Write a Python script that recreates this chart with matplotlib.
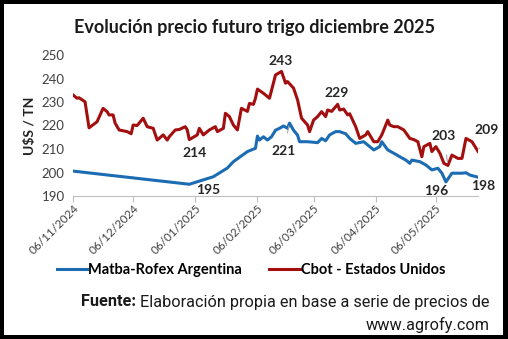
import pandas as pd
import matplotlib
matplotlib.use("Agg")
import matplotlib.pyplot as plt
import matplotlib.dates as mdates
from matplotlib.patches import Rectangle

# Precio futuro trigo dic-2025, U$S/TN
matba_fechas = ["2024-11-06", "2025-01-03", "2025-01-15", "2025-01-22", "2025-01-25",
                "2025-02-01", "2025-02-05", "2025-02-06", "2025-02-07", "2025-02-09",
                "2025-02-11", "2025-02-13", "2025-02-15", "2025-02-17", "2025-02-19",
                "2025-02-21", "2025-02-22", "2025-02-24", "2025-02-26", "2025-02-27",
                "2025-03-03", "2025-03-08", "2025-03-10", "2025-03-12", "2025-03-14",
                "2025-03-17", "2025-03-19", "2025-03-22", "2025-03-24", "2025-03-27",
                "2025-03-31", "2025-04-02", "2025-04-05", "2025-04-08", "2025-04-09",
                "2025-04-12", "2025-04-15", "2025-04-18", "2025-04-21", "2025-04-23",
                "2025-04-24", "2025-04-28", "2025-05-01", "2025-05-04", "2025-05-07",
                "2025-05-09", "2025-05-11", "2025-05-14", "2025-05-19", "2025-05-21",
                "2025-05-23", "2025-05-27"]
matba_precio = [200.6, 195.0, 198.2, 201.9, 204.6,
                208.9, 210.3, 215.5, 213.8, 215.2,
                213.8, 215.2, 218.0, 218.8, 219.8,
                218.8, 221.0, 218.0, 215.9, 213.1,
                213.1, 212.7, 214.5, 213.5, 216.0,
                217.4, 217.4, 216.5, 214.5, 212.4,
                213.1, 211.7, 209.6, 211.0, 213.1,
                209.6, 208.2, 206.7, 205.3, 203.9,
                205.3, 204.6, 203.2, 201.1, 201.8,
                199.7, 196.0, 199.7, 199.7, 199.9,
                198.9, 198.0]

cbot_fechas = ["2024-11-06", "2024-11-08", "2024-11-09", "2024-11-12", "2024-11-14",
               "2024-11-18", "2024-11-21", "2024-11-23", "2024-11-24", "2024-11-26",
               "2024-11-27", "2024-11-29", "2024-12-03", "2024-12-05", "2024-12-06",
               "2024-12-08", "2024-12-11", "2024-12-13", "2024-12-16", "2024-12-18",
               "2024-12-21", "2024-12-23", "2024-12-24", "2024-12-27", "2024-12-29",
               "2025-01-01", "2025-01-02", "2025-01-03", "2025-01-07", "2025-01-08",
               "2025-01-10", "2025-01-13", "2025-01-16", "2025-01-17", "2025-01-20",
               "2025-01-21", "2025-01-23", "2025-01-25", "2025-01-27", "2025-01-29",
               "2025-02-01", "2025-02-02", "2025-02-04", "2025-02-05", "2025-02-06",
               "2025-02-09", "2025-02-12", "2025-02-15", "2025-02-18", "2025-02-20",
               "2025-02-21", "2025-02-24", "2025-02-26", "2025-02-28", "2025-03-03",
               "2025-03-04", "2025-03-06", "2025-03-08", "2025-03-10", "2025-03-12",
               "2025-03-13", "2025-03-15", "2025-03-18", "2025-03-19", "2025-03-21",
               "2025-03-23", "2025-03-24", "2025-03-27", "2025-03-29", "2025-04-01",
               "2025-04-02", "2025-04-05", "2025-04-07", "2025-04-09", "2025-04-12",
               "2025-04-13", "2025-04-15", "2025-04-17", "2025-04-20", "2025-04-23",
               "2025-04-25", "2025-04-27", "2025-04-29", "2025-04-30", "2025-05-03",
               "2025-05-04", "2025-05-06", "2025-05-08", "2025-05-10", "2025-05-12",
               "2025-05-14", "2025-05-17", "2025-05-19", "2025-05-21", "2025-05-24",
               "2025-05-27"]
cbot_precio = [233.0, 231.6, 231.8, 230.1, 219.0,
               221.6, 227.3, 225.9, 224.5, 224.5,
               221.0, 218.1, 217.4, 216.5, 220.2,
               220.0, 223.1, 219.5, 218.8, 213.8,
               216.0, 213.8, 215.2, 218.1, 218.3,
               219.5, 218.1, 214.0, 216.0, 218.8,
               216.0, 218.1, 219.5, 217.4, 218.8,
               225.2, 223.8, 220.2, 218.1, 227.3,
               226.0, 229.4, 229.0, 231.6, 235.5,
               233.7, 231.6, 241.5, 243.0, 238.0,
               238.7, 235.9, 230.9, 223.1, 220.2,
               217.4, 222.3, 223.8, 225.9, 223.8,
               226.6, 226.0, 229.0, 226.6, 227.0,
               224.5, 225.0, 219.5, 214.5, 216.0,
               217.4, 213.1, 213.1, 216.0, 222.3,
               220.2, 219.5, 219.5, 218.1, 214.5,
               214.0, 213.1, 206.7, 211.0, 212.4,
               208.9, 211.0, 208.2, 203.9, 203.0,
               207.4, 206.0, 206.0, 214.5, 213.1,
               209.0]

meses = ["2024-11-06", "2024-12-06", "2025-01-06", "2025-02-06",
         "2025-03-06", "2025-04-06", "2025-05-06"]

# etiquetas de valor: (serie, fecha, texto, desplazamiento px, linea guia)
etiquetas = [
    ("cbot", "2025-02-18", "243", (-1, 10), False),
    ("cbot", "2025-03-18", "229", (-1, 11), False),
    ("cbot", "2025-01-03", "214", (5, -13), False),
    ("cbot", "2025-05-12", "203", (-4, 29), True),
    ("cbot", "2025-05-27", "209", (9, 21), True),
    ("matba", "2025-01-03", "195", (19, -6), False),
    ("matba", "2025-02-22", "221", (-6, -28), True),
    ("matba", "2025-05-11", "196", (-10, -9), False),
    ("matba", "2025-05-27", "198", (5, -9), False),
]

AZUL = "#1b6cb3"
ROJO = "#a30f0f"

matba = pd.Series(matba_precio, index=pd.to_datetime(matba_fechas))
cbot = pd.Series(cbot_precio, index=pd.to_datetime(cbot_fechas))

plt.rcParams["font.family"] = ["Lato", "DejaVu Sans"]

fig = plt.figure(figsize=(5.08, 3.39), dpi=100, facecolor="black")
W, H = 508, 339
fig.patches.append(Rectangle((4 / W, 1 - 335 / H), 499 / W, 331 / H,
                             transform=fig.transFigure, facecolor="white",
                             edgecolor="none", zorder=-5))

ax = fig.add_axes([73 / W, 1 - 196 / H, 405 / W, 141 / H])
ax.set_facecolor("none")

ax.plot(matba.index, matba.values, color=AZUL, lw=2.2, label="Matba-Rofex Argentina")
ax.plot(cbot.index, cbot.values, color=ROJO, lw=2.2, label="Cbot - Estados Unidos")

ax.set_ylim(190, 250)
ax.set_yticks(range(190, 251, 10))
ax.set_xlim(pd.Timestamp("2024-11-06"), pd.Timestamp("2025-05-27"))
ax.set_xticks(pd.to_datetime(meses))
ax.xaxis.set_major_formatter(mdates.DateFormatter("%d/%m/%Y"))

for s in ["top", "right", "left"]:
    ax.spines[s].set_visible(False)
ax.spines["bottom"].set_color("#bfbfbf")
ax.tick_params(axis="y", length=0, labelsize=9.5, colors="#404040", pad=6)
ax.tick_params(axis="x", length=4, color="#bfbfbf", labelsize=8.5,
               colors="#404040", pad=1)
for t in ax.get_xticklabels():
    t.set_rotation(45)
    t.set_ha("right")
    t.set_rotation_mode("anchor")

ax.set_ylabel("U$S / TN", fontsize=10, fontweight="bold", color="#222222", labelpad=4)

series = {"matba": matba, "cbot": cbot}
for nombre, fecha, texto, off, guia in etiquetas:
    f = pd.Timestamp(fecha)
    y = series[nombre][f]
    props = None
    if guia:
        props = dict(arrowstyle="-", color="#a6a6a6", lw=0.8, shrinkA=7, shrinkB=2)
    ax.annotate(texto, xy=(f, y), xytext=off, textcoords="offset pixels",
                ha="center", va="center", fontsize=10, fontweight="bold",
                color="#262626", arrowprops=props)

fig.text(0.5, 1 - 27 / H, "Evolución precio futuro trigo diciembre 2025",
         ha="center", va="center", fontsize=13, fontweight="bold", color="#1a1a1a")

fig.legend(loc="center", bbox_to_anchor=(251 / W, 1 - 270 / H), ncol=2,
           frameon=False, handlelength=2.1, handletextpad=0.05, columnspacing=1.9,
           prop=dict(family="Lato", weight="bold", size=10.5))

fuente = "Roboto"
fig.text(490 / W, 1 - 302 / H, "Elaboración propia en base a serie de precios de",
         ha="right", va="center", fontsize=11.7, family=fuente, color="#1a1a1a")
fig.text(490 / W, 1 - 325 / H, "www.agrofy.com",
         ha="right", va="center", fontsize=11.7, family=fuente, color="#1a1a1a")

# "Fuente:" en negrita delante del texto
fig.canvas.draw()
r = fig.texts[1].get_window_extent()
fig.text((r.x0 - 4) / W, 1 - 302 / H, "Fuente:", ha="right", va="center",
         fontsize=11.7, family=fuente, fontweight="bold", color="#1a1a1a")

fig.savefig("out.png", dpi=100, facecolor=fig.get_facecolor())
